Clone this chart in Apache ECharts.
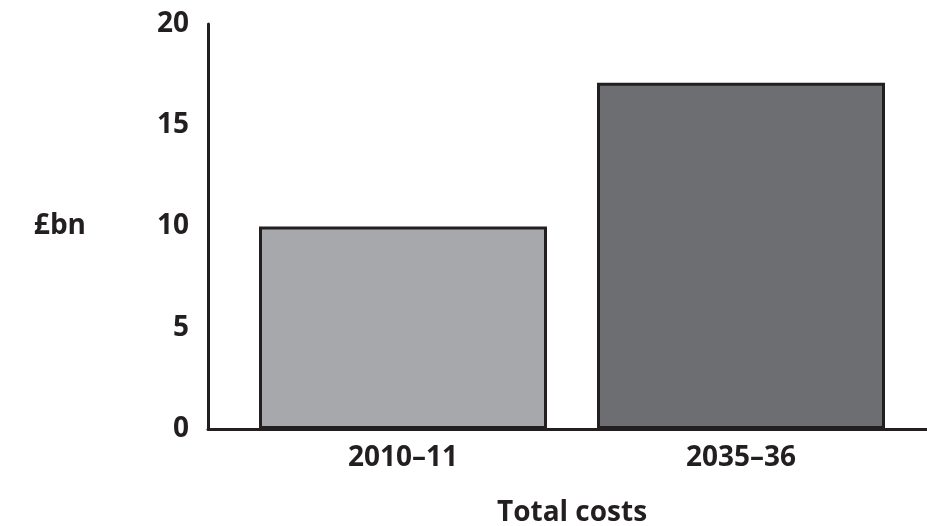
<!DOCTYPE html>
<html>
<head>
<meta charset="utf-8">
<script src="https://cdn.jsdelivr.net/npm/echarts@6/dist/echarts.min.js"></script>
<style>
html, body { margin:0; padding:0; background:#fff; }
#chart { width:927px; height:526px; }
</style>
</head>
<body>
<div id="chart"></div>
<script>
var categories = ['2010–11', '2035–36'];
var costs = [10, 17.1];
var barColors = ['#a7a8ab', '#6d6e71'];
var yTicks = [0, 5, 10, 15, 20];

function totalCostsChart(){
	var chart = echarts.init(document.getElementById('chart'));
	var ink = '#231f20';
	var font = '"Open Sans", "Noto Sans", sans-serif';
	var fs = 28;

	var option = {
		animation: false,
		grid: [
			{ left: 234, right: 17, top: 24, bottom: 97, outerBoundsMode: 'none' },
			{ left: 208, right: 0, top: 24, bottom: 97, outerBoundsMode: 'none' }
		],
		xAxis: [{
			gridIndex: 0,
			type: 'category',
			data: categories,
			axisLine: { show: false },
			axisTick: { show: false },
			axisLabel: { color: ink, fontFamily: font, fontWeight: 'bold', fontSize: fs, margin: 15 },
			name: 'Total costs',
			nameLocation: 'middle',
			nameGap: 70,
			nameTextStyle: { color: ink, fontFamily: font, fontWeight: 'bold', fontSize: fs }
		}, {
			gridIndex: 1,
			type: 'value',
			min: 0, max: 1,
			axisLine: { show: true, lineStyle: { color: ink, width: 3 } },
			axisTick: { show: false },
			axisLabel: { show: false },
			splitLine: { show: false }
		}],
		yAxis: [{
			gridIndex: 0,
			type: 'value',
			min: yTicks[0],
			max: yTicks[yTicks.length - 1],
			interval: 5,
			offset: 26,
			axisLine: { show: true, onZero: false, lineStyle: { color: ink, width: 3 } },
			axisTick: { show: false },
			splitLine: { show: false },
			axisLabel: { color: ink, fontFamily: font, fontWeight: 'bold', fontSize: fs, margin: 19 },
			name: '£bn',
			nameLocation: 'middle',
			nameRotate: 0,
			nameGap: 122,
			nameTextStyle: { color: ink, fontFamily: font, fontWeight: 'bold', fontSize: fs }
		}, {
			gridIndex: 1,
			type: 'value',
			show: false
		}],
		series: [{
			type: 'bar',
			xAxisIndex: 0,
			yAxisIndex: 0,
			barWidth: 288,
			data: costs.map(function (v, i) {
				return {
					value: v,
					itemStyle: { color: barColors[i], borderColor: ink, borderWidth: 3 }
				};
			})
		}]
	};

	chart.setOption(option);
}

totalCostsChart();
</script>
</body>
</html>
